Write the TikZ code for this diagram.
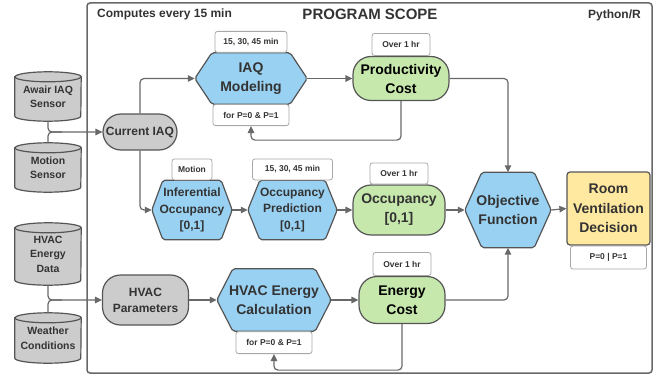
\documentclass[tikz,border=0pt]{standalone}
\usepackage{fontspec}
\setmainfont{Liberation Sans}
\usetikzlibrary{arrows.meta,calc}
\definecolor{hexblue}{HTML}{99D1F2}
\definecolor{cgreen}{HTML}{C7E8AC}
\definecolor{cgray}{HTML}{CCCCCC}
\definecolor{cyellow}{HTML}{FFE8A0}
\definecolor{edgec}{HTML}{555555}
\definecolor{wirec}{HTML}{686868}
\definecolor{tagc}{HTML}{A8A8A8}
\definecolor{txt}{HTML}{333333}
\pgfdeclarelayer{bg}
\pgfsetlayers{bg,main}
\newcommand\fsz[2]{\fontsize{#1}{#2}\selectfont\bfseries}
\newcommand\hexbg[2]{\path[hexshape] ([xshift=#2pt]#1.north west) -- ([xshift=-#2pt]#1.north east) -- (#1.east) -- ([xshift=-#2pt]#1.south east) -- ([xshift=#2pt]#1.south west) -- (#1.west) -- cycle;}
\newcommand\cylbg[1]{%
  \path[cylshape] ([yshift=-5pt]#1.north west) -- ([yshift=5pt]#1.south west)
    arc[start angle=180,end angle=0,x radius=33,y radius=5]
    -- ([yshift=-5pt]#1.north east)
    arc[start angle=0,end angle=-180,x radius=33,y radius=5] -- cycle;
  \draw[cylrim] ([yshift=-5pt]#1.north west) arc[start angle=180,end angle=0,x radius=33,y radius=5];}
\tikzset{
  frame/.style={draw=wirec, line width=1.5pt, rounded corners=3pt, inner sep=0},
  arr/.style={draw=wirec, line width=1.2pt, rounded corners=4pt, -{Triangle[length=7pt,width=6.5pt]}},
  ln/.style={draw=wirec, line width=1.2pt, rounded corners=4pt},
  hexnode/.style={draw=none, inner sep=0, align=center, text=txt, font=\fsz{14}{19}},
  hexshape/.style={fill=hexblue, draw=edgec, line width=1.2pt, rounded corners=2pt},
  stadium/.style={draw=edgec, line width=1.2pt, rounded corners=18pt, inner sep=0, align=center},
  tag/.style={draw=tagc, fill=white, rounded corners=2.5pt, line width=0.8pt, inner sep=0, font=\fsz{8.5}{10}, text=txt},
  cylnode/.style={draw=none, minimum width=66, inner sep=0, align=center, font=\fsz{10.5}{14.5}, text=txt},
  cylshape/.style={fill=cgray, draw=edgec, line width=1.2pt},
  cylrim/.style={draw=edgec, line width=1.2pt},
  ttl/.style={inner sep=0, text=txt}
}
\begin{document}
\begin{tikzpicture}[x=1pt,y=-1pt]
\useasboundingbox (0,0) rectangle (660,377);
% program scope frame
\node[frame, minimum width=565, minimum height=370] (scope) at (369.5,188) {};
\node[ttl, font=\fsz{12}{14}, anchor=west] (comp) at (97,14) {Computes every 15 min};
\node[ttl, font=\fsz{15}{18}] (title) at (370,14) {PROGRAM SCOPE};
\node[ttl, font=\fsz{12}{14}, anchor=east] (py) at (641,15.5) {Python/R};
% cylinders
\node[cylnode, minimum height=49] (aw) at (48,96.5) {Awair IAQ\\Sensor};
\node[cylnode, minimum height=49] (mo) at (48,167.5) {Motion\\Sensor};
\node[cylnode, minimum height=62] (hed) at (48,254) {HVAC\\Energy\\Data};
\node[cylnode, minimum height=50] (wc) at (48,338) {Weather\\Conditions};
% top row
\node[stadium, fill=cgray, minimum width=74, minimum height=36, font=\fsz{12}{15}, text=txt] (ciaq) at (140,132) {Current IAQ};
\node[hexnode, minimum width=112, minimum height=51] (iaq) at (251,78.5) {IAQ\\Modeling};
\node[tag, minimum width=72, minimum height=21, anchor=south] (iaqt) at (iaq.north) {15, 30, 45 min};
\node[tag, minimum width=76, minimum height=21, anchor=north] (iaqb) at (iaq.south) {for P=0 \& P=1};
\node[stadium, fill=cgreen, minimum width=96, minimum height=44, font=\fsz{14}{19}, text=black] (prod) at (401,78.5) {Productivity\\Cost};
\node[tag, minimum width=58, minimum height=22, anchor=south] (prodt) at (prod.north) {Over 1 hr};
% middle row
\node[hexnode, minimum width=80, minimum height=59, font=\fsz{12}{16.5}] (inf) at (192,210) {Inferential\\Occupancy\\{}[0,1]};
\node[tag, minimum width=40, minimum height=21, anchor=south] (inft) at (inf.north) {Motion};
\node[hexnode, minimum width=89, minimum height=59, font=\fsz{12}{16.5}] (pred) at (292.5,210) {Occupancy\\Prediction\\{}[0,1]};
\node[tag, minimum width=80, minimum height=21, anchor=south] (predt) at (pred.north) {15, 30, 45 min};
\node[stadium, fill=cgreen, minimum width=92, minimum height=50, font=\fsz{14}{19}, text=txt] (occ) at (399,210) {Occupancy\\{}[0,1]};
\node[tag, minimum width=58, minimum height=21, anchor=south] (occt) at (occ.north) {Over 1 hr};
\node[hexnode, minimum width=86, minimum height=75] (obj) at (508,210) {Objective\\Function};
\node[draw=edgec, fill=cyellow, line width=1.2pt, rounded corners=3pt, minimum width=83, minimum height=73, inner sep=0, align=center, font=\fsz{14}{19.5}, text=txt] (room) at (608.5,208.5) {Room\\Ventilation\\Decision};
\node[tag, minimum width=76, minimum height=23, anchor=north] (roomb) at (room.south) {P=0 | P=1};
% bottom row
\node[stadium, fill=cgray, minimum width=86, minimum height=50, font=\fsz{12}{16}, text=txt] (hvp) at (145.5,300) {HVAC\\Parameters};
\node[hexnode, minimum width=114, minimum height=62] (hvc) at (274,300) {HVAC Energy\\Calculation};
\node[tag, minimum width=76, minimum height=22, anchor=north] (hvcb) at (hvc.south) {for P=0 \& P=1};
\node[stadium, fill=cgreen, minimum width=86, minimum height=47, font=\fsz{14}{19}, text=black] (ecost) at (402,300) {Energy\\Cost};
\node[tag, minimum width=58, minimum height=23, anchor=south] (ecostt) at (ecost.north) {Over 1 hr};
% backgrounds
\begin{pgfonlayer}{bg}
  \hexbg{iaq}{17}
  \hexbg{inf}{11}
  \hexbg{pred}{12}
  \hexbg{obj}{17}
  \hexbg{hvc}{16}
  \cylbg{aw}
  \cylbg{mo}
  \cylbg{hed}
  \cylbg{wc}
\end{pgfonlayer}
% connectors
\draw[arr] (aw.south) |- (ciaq.west);
\draw[ln] (mo.north) |- ($(aw.south |- ciaq.west)+(14,0)$);
\draw[arr] (ciaq.north) |- (iaq.west);
\draw[arr] (ciaq.south) |- (inf.west);
\draw[arr] (iaq.east) -- (prod.west);
\draw[arr] (prod.east) -| (obj.north);
\draw[arr] (prod.south) -- ++(0,39) -| (iaqb.south);
\draw[arr] (inf.east) -- (pred.west);
\draw[arr] (pred.east) -- (occ.west);
\draw[arr] (occ.east) -- (obj.west);
\draw[arr] (obj.east) -- (room.west);
\draw[arr] (hed.south) |- (hvp.west);
\draw[ln] (wc.north) |- ($(hed.south |- hvp.west)+(14,0)$);
\draw[arr] (hvp.east) -- (hvc.west);
\draw[arr] (hvc.east) -- (ecost.west);
\draw[arr] (ecost.east) -| (obj.south);
\draw[arr] (ecost.south) -- ++(0,46) -| (hvcb.south);
\end{tikzpicture}
\end{document}
